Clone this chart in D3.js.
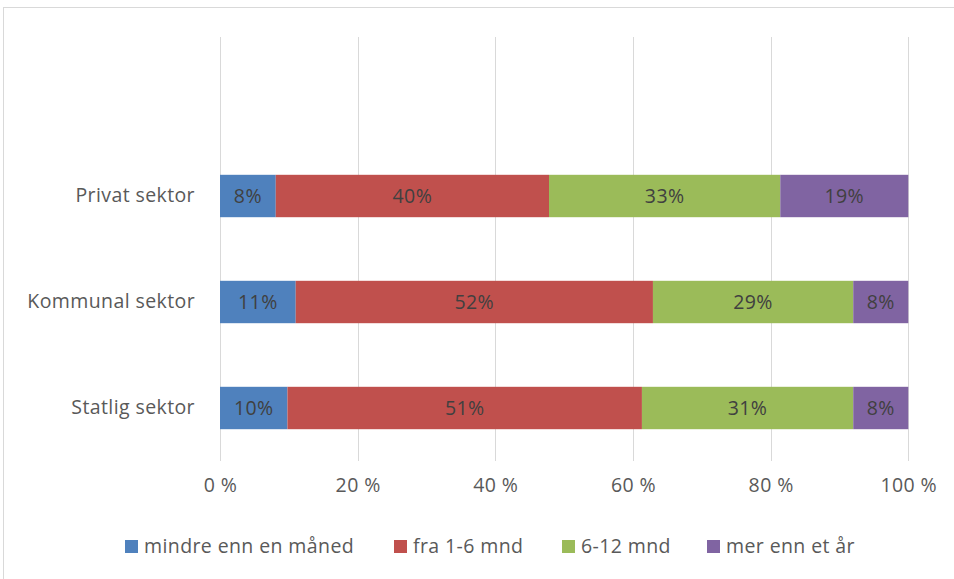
<!DOCTYPE html>
<html>
<head>
<meta charset="utf-8">
<script src="https://cdn.jsdelivr.net/npm/d3@7"></script>
<style>
  body { margin: 0; background: #fff; }
  text { font-family: "Open Sans", Lato, sans-serif; fill: #595959; letter-spacing: 0.4px; }
</style>
</head>
<body>
<div id="chart"></div>
<script>
var width = 954,
    height = 579;

// categories, bottom to top; the top slot is empty in the original chart
var categories = ["Statlig sektor", "Kommunal sektor", "Privat sektor", ""];
var seriesNames = ["mindre enn en måned", "fra 1-6 mnd", "6-12 mnd", "mer enn et år"];
var colors = ["#4f81bd", "#c0504d", "#9bbb59", "#8064a2"];

// shares per category (percent), same order as categories
var lessThanMonth = [9.8, 11.0, 8.1];
var oneToSix = [51.5, 51.9, 39.7];
var sixToTwelve = [30.7, 29.1, 33.6];
var moreThanYear = [8.0, 8.0, 18.6];
var labels = [
    ["10%", "11%", "8%"],
    ["51%", "52%", "40%"],
    ["31%", "29%", "33%"],
    ["8%", "8%", "19%"]
];
var xTicks = [0, 20, 40, 60, 80, 100];

var series = [lessThanMonth, oneToSix, sixToTwelve, moreThanYear];
var fontSize = "19.5px";

var svg = d3.select("#chart").append("svg")
    .attr("width", width)
    .attr("height", height);

// outer chart frame (only left and top show in the reference)
svg.append("rect")
    .attr("x", 3.5)
    .attr("y", 7.5)
    .attr("width", 1000)
    .attr("height", 1000)
    .attr("fill", "none")
    .attr("stroke", "#d9d9d9");

var x = d3.scaleLinear()
    .domain([0, 100])
    .range([220, 908.3]);

var y = d3.scaleBand()
    .domain(categories.slice().reverse())
    .range([37, 461])
    .paddingInner(0.6)
    .paddingOuter(0.3);

// gridlines
svg.append("g")
    .selectAll("line")
    .data(xTicks)
    .enter().append("line")
    .attr("x1", function(d) { return Math.round(x(d)) + 0.5; })
    .attr("x2", function(d) { return Math.round(x(d)) + 0.5; })
    .attr("y1", 37)
    .attr("y2", 461)
    .attr("stroke", "#d9d9d9")
    .attr("stroke-width", 1);

// x axis labels
var xAxis = d3.axisBottom(x)
    .tickValues(xTicks)
    .tickSize(0)
    .tickFormat(function(d) { return d + " %"; });

var gx = svg.append("g")
    .attr("transform", "translate(0,478)")
    .call(xAxis);
gx.select(".domain").remove();
gx.selectAll("text")
    .attr("dy", 0)
    .attr("y", 14)
    .style("font-size", fontSize)
    .style("fill", "#595959")
    .style("font-family", "'Open Sans', sans-serif");

// category labels
var yAxis = d3.axisLeft(y).tickSize(0).tickPadding(25);
var gy = svg.append("g")
    .attr("transform", "translate(220,0)")
    .call(yAxis);
gy.select(".domain").remove();
gy.selectAll("text")
    .style("font-size", fontSize)
    .style("fill", "#595959")
    .style("font-family", "'Open Sans', sans-serif");

// stacked bars
var cats = categories.slice(0, 3);
cats.forEach(function(cat, ci) {
    var acc = 0;
    series.forEach(function(s, si) {
        var v = s[ci];
        var g = svg.append("g");
        g.append("rect")
            .attr("x", x(acc))
            .attr("y", y(cat))
            .attr("width", x(acc + v) - x(acc))
            .attr("height", y.bandwidth())
            .attr("fill", colors[si]);
        g.append("text")
            .attr("x", x(acc + v / 2))
            .attr("y", y(cat) + y.bandwidth() / 2)
            .attr("dy", "0.35em")
            .attr("text-anchor", "middle")
            .style("font-size", fontSize)
            .style("fill", "#404040")
            .text(labels[si][ci]);
        acc += v;
    });
});

// legend
var legendX = [125, 394, 562, 707];
var legend = svg.append("g")
    .selectAll("g")
    .data(seriesNames)
    .enter().append("g")
    .attr("transform", function(d, i) { return "translate(" + legendX[i] + ",540)"; });

legend.append("rect")
    .attr("width", 13)
    .attr("height", 13)
    .attr("fill", function(d, i) { return colors[i]; });

legend.append("text")
    .attr("x", 19)
    .attr("y", 6.5)
    .attr("dy", "0.35em")
    .style("font-size", fontSize)
    .text(function(d) { return d; });
</script>
</body>
</html>
